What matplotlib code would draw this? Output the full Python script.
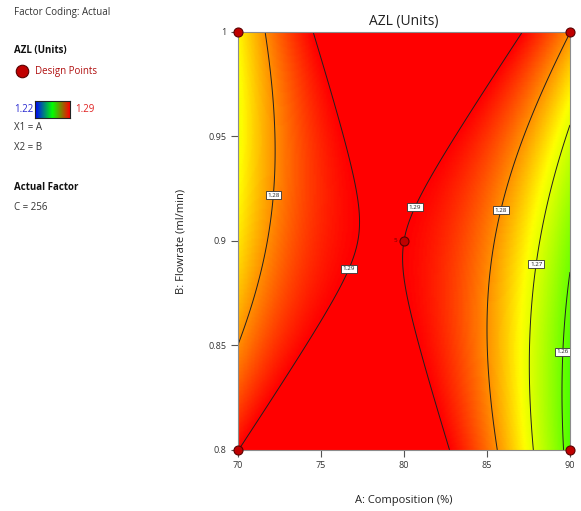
import numpy as np
import matplotlib
matplotlib.use("Agg")
import matplotlib.pyplot as plt
from matplotlib.colors import LinearSegmentedColormap, Normalize
from matplotlib.ticker import FuncFormatter

plt.rcParams['font.family'] = ['Open Sans', 'DejaVu Sans']

# Factor ranges (actual units)
comp_range = [70, 90]          # A: Composition (%)
flow_range = [0.8, 1.0]        # B: Flowrate (ml/min)
actual_factor_c = 256

# Coded-factor quadratic model for AZL
model_terms = ["Intercept", "A", "B", "AB", "A^2", "B^2"]
model_coefs = [1.2900, -0.0062, 0.0013, 0.0099, -0.0223, 0.0074]

# Colour scale limits and contour levels
scale_min, scale_max = 1.22, 1.29
contour_levels = [1.26, 1.27, 1.28, 1.29]

# Design points (actual units) and replicate counts
design_comp = [70, 90, 70, 90, 80]
design_flow = [1.0, 1.0, 0.8, 0.8, 0.9]
design_reps = [1, 1, 1, 1, 5]

x_ticks = [70, 75, 80, 85, 90]
y_ticks = [0.8, 0.85, 0.9, 0.95, 1.0]


def azl(a, b):
    x1 = (a - np.mean(comp_range)) / ((comp_range[1] - comp_range[0]) / 2)
    x2 = (b - np.mean(flow_range)) / ((flow_range[1] - flow_range[0]) / 2)
    c = dict(zip(model_terms, model_coefs))
    return (c["Intercept"] + c["A"] * x1 + c["B"] * x2 + c["AB"] * x1 * x2
            + c["A^2"] * x1 ** 2 + c["B^2"] * x2 ** 2)


cmap = LinearSegmentedColormap.from_list(
    "de", [(0.0, "#0000ff"), (0.25, "#00ffff"), (0.5, "#33ff00"),
           (0.75, "#ffff00"), (1.0, "#ff0000")])
norm = Normalize(scale_min, scale_max)

fig = plt.figure(figsize=(5.81, 5.11), dpi=100)
ax = fig.add_axes([0.4096, 0.1194, 0.5714, 0.818])

ga = np.linspace(comp_range[0], comp_range[1], 241)
gb = np.linspace(flow_range[0], flow_range[1], 241)
AA, BB = np.meshgrid(ga, gb)
Z = azl(AA, BB)

ax.pcolormesh(AA, BB, Z, cmap=cmap, norm=norm, shading="gouraud", zorder=1)
cs = ax.contour(AA, BB, Z, levels=contour_levels, colors="#202020",
                linewidths=0.7, zorder=2)
label_spots = [(72.0, 0.922), (76.6, 0.887), (80.7, 0.916),
               (85.7, 0.915), (87.9, 0.889), (89.6, 0.847)]
labels = ax.clabel(cs, fmt="%.2f", fontsize=4.5, inline=False, manual=label_spots)
for t in labels:
    t.set_rotation(0)
    t.set_color("#222222")
    t.set_bbox(dict(facecolor="white", edgecolor="#333333", linewidth=0.6,
                    boxstyle="square,pad=0.25"))
    t.set_zorder(4)

ax.plot(design_comp, design_flow, "o", ms=6.5, mfc="#c00000", mec="#5a0000",
        mew=0.8, clip_on=False, zorder=5, linestyle="none")
for a, b, n in zip(design_comp, design_flow, design_reps):
    if n > 1:
        ax.annotate(str(n), (a, b), xytext=(-5, 0), textcoords="offset points",
                    ha="right", va="center", fontsize=4.5, color="#600000")

ax.set_xlim(comp_range)
ax.set_ylim(flow_range)
ax.set_xticks(x_ticks)
ax.set_yticks(y_ticks)
ax.yaxis.set_major_formatter(FuncFormatter(lambda v, p: f"{v:g}"))
for s in ax.spines.values():
    s.set_color("#8c8c8c")
    s.set_linewidth(0.8)
ax.tick_params(direction="out", length=5, width=0.8, color="#555555",
               labelsize=6.5, labelcolor="#333333", pad=3)

ax.set_title("AZL (Units)", fontsize=10, color="#222222", pad=5)
ax.set_xlabel("A: Composition (%)", fontsize=8, color="#222222", labelpad=18)
ax.set_ylabel("B: Flowrate (ml/min)", fontsize=8, color="#222222", labelpad=16)

# Side panel
W, H = 581, 511


def ft(x, y, s, **kw):
    fig.text(x / W, 1 - y / H, s, va="center", ha="left", **kw)


ft(14, 12, "Factor Coding: Actual", fontsize=7, color="#333333")
ft(14, 50, "AZL (Units)", fontsize=7, color="#111111", fontweight="bold")
fig.lines.append(plt.Line2D([22 / W], [1 - 71 / H], marker="o", ms=9,
                            mfc="#c00000", mec="#5a0000", mew=0.8,
                            transform=fig.transFigure, linestyle="none"))
ft(35, 71, "Design Points", fontsize=7, color="#b01010")
ft(14, 109, f"{scale_min:.2f}", fontsize=7, color="#2a2ad0")
ft(75, 109, f"{scale_max:.2f}", fontsize=7, color="#e02020")
bar_ax = fig.add_axes([35 / W, 1 - 118 / H, 35 / W, 17 / H])
bar_cmap = LinearSegmentedColormap.from_list("bar", ["#0000ff", "#00ff00", "#ff0000"])
bar_ax.imshow(np.linspace(0, 1, 100)[None, :], aspect="auto", cmap=bar_cmap)
bar_ax.set_xticks([])
bar_ax.set_yticks([])
for s in bar_ax.spines.values():
    s.set_color("#222222")
    s.set_linewidth(0.8)
ft(14, 128, "X1 = A", fontsize=7, color="#333333")
ft(14, 148, "X2 = B", fontsize=7, color="#333333")
ft(14, 187, "Actual Factor", fontsize=7, color="#111111", fontweight="bold")
ft(14, 207, f"C = {actual_factor_c}", fontsize=7, color="#333333")

fig.savefig("out.png", dpi=100, facecolor="white")
